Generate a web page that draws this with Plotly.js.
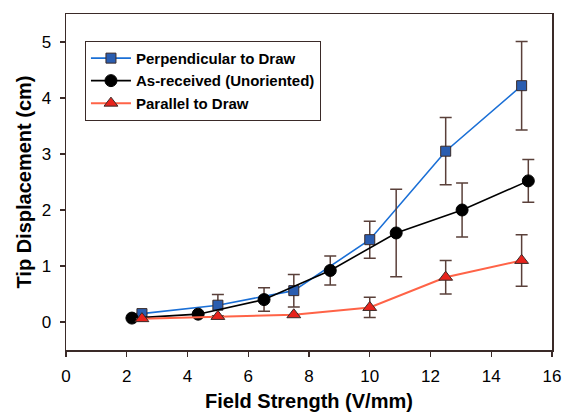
<!DOCTYPE html>
<html>
<head>
<meta charset="utf-8">
<script src="https://cdn.plot.ly/plotly-3.0.1.min.js"></script>
<style>html,body{margin:0;padding:0;background:#fff;}#chart{width:562px;height:412px;}</style>
</head>
<body>
<div id="chart"></div>
<script>
// Data
const perpX = [2.5, 5, 7.5, 10, 12.5, 15];
const perpY = [0.15, 0.30, 0.56, 1.47, 3.05, 4.22];
const perpErr = [0.0, 0.19, 0.29, 0.33, 0.60, 0.79];

const asRecX = [2.17, 4.35, 6.52, 8.7, 10.87, 13.04, 15.22];
const asRecY = [0.07, 0.14, 0.40, 0.92, 1.59, 2.00, 2.52];
const asRecErr = [0.0, 0.0, 0.21, 0.26, 0.78, 0.48, 0.38];

const parX = [2.5, 5, 7.5, 10, 12.5, 15];
const parY = [0.06, 0.10, 0.13, 0.26, 0.80, 1.10];
const parErr = [0.0, 0.0, 0.0, 0.18, 0.30, 0.46];

const seriesNames = ['Perpendicular to Draw', 'As-received (Unoriented)', 'Parallel to Draw'];
const xTicks = [0, 2, 4, 6, 8, 10, 12, 14, 16];
const yTicks = [0, 1, 2, 3, 4, 5];

const errColor = '#5a403a';
const axisColor = '#3a2a28';
const fontFam = '"Liberation Sans", Arial, Helvetica, sans-serif';

const traces = [
  {
    x: perpX, y: perpY, name: seriesNames[0], type: 'scatter', mode: 'lines+markers',
    line: {color: '#1a6fd6', width: 1.6},
    marker: {symbol: 'square', size: 10, color: '#2a5db0', line: {color: '#3a2a28', width: 1}},
    error_y: {type: 'data', array: perpErr, visible: true, color: errColor, thickness: 1.5, width: 6}
  },
  {
    x: asRecX, y: asRecY, name: seriesNames[1], type: 'scatter', mode: 'lines+markers',
    line: {color: '#000000', width: 1.6},
    marker: {symbol: 'circle', size: 12, color: '#000000', line: {color: '#000000', width: 1}},
    error_y: {type: 'data', array: asRecErr, visible: true, color: errColor, thickness: 1.5, width: 6}
  },
  {
    x: parX, y: parY, name: seriesNames[2], type: 'scatter', mode: 'lines+markers',
    line: {color: '#ff6347', width: 2},
    marker: {symbol: 'triangle-up', size: 12, color: '#e8231c', line: {color: '#3a2a28', width: 1}},
    error_y: {type: 'data', array: parErr, visible: true, color: errColor, thickness: 1.5, width: 6}
  }
];

const layout = {
  width: 562, height: 412,
  margin: {l: 66, r: 10, t: 14, b: 62, pad: 0},
  paper_bgcolor: '#ffffff', plot_bgcolor: '#ffffff',
  font: {family: fontFam, color: '#000000', size: 17},
  showlegend: true,
  legend: {
    x: 0.039, y: 0.92, xanchor: 'left', yanchor: 'top',
    bgcolor: '#ffffff', bordercolor: axisColor, borderwidth: 1,
    font: {family: fontFam, size: 15, weight: 'bold', color: '#000000'},
    itemwidth: 40, tracegroupgap: 0
  },
  xaxis: {
    range: [0, 16], tickvals: xTicks, ticktext: xTicks.map(String),
    ticks: 'outside', ticklen: 5, tickwidth: 1.2, tickcolor: axisColor,
    showline: true, linecolor: axisColor, linewidth: 1.5, mirror: true,
    showgrid: false, zeroline: false, ticklabelstandoff: 5,
    tickfont: {size: 17, family: fontFam},
    title: {text: 'Field Strength (V/mm)', font: {size: 20, weight: 'bold', family: fontFam}, standoff: 9},
    automargin: false
  },
  yaxis: {
    range: [-0.5, 5.5], tickvals: yTicks, ticktext: yTicks.map(String),
    ticks: 'outside', ticklen: 5, tickwidth: 1.2, tickcolor: axisColor,
    showline: true, linecolor: axisColor, linewidth: 1.5, mirror: true,
    showgrid: false, zeroline: false, ticklabelstandoff: 5,
    tickfont: {size: 17, family: fontFam},
    title: {text: 'Tip Displacement (cm)', font: {size: 20, weight: 'bold', family: fontFam}, standoff: 4},
    automargin: false
  }
};

Plotly.newPlot('chart', traces, layout, {displayModeBar: false, staticPlot: true});
</script>
</body>
</html>
